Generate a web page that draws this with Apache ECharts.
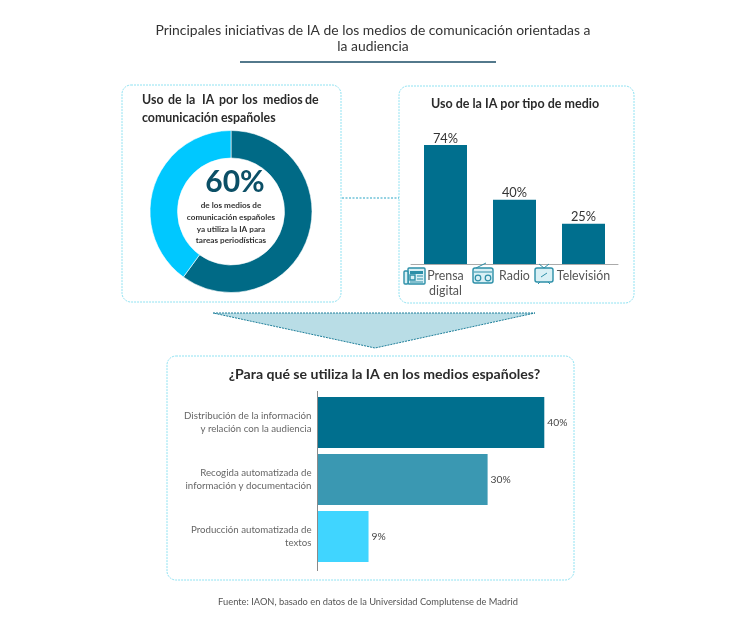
<!DOCTYPE html>
<html><head><meta charset="utf-8">
<style>html,body{margin:0;padding:0;background:#fff}#c{width:736px;height:623px}</style>
<script src="https://cdn.jsdelivr.net/npm/echarts@6/dist/echarts.min.js"></script>
</head><body><div id="c"></div>
<script>
const FONT = 'Lato, sans-serif';
const donutNames = ['Utiliza la IA', 'No utiliza la IA'];
const donutValues = [60, 40];
const mediaCategories = ['Prensa\ndigital', 'Radio', 'Televisión'];
const mediaValues = [74, 40, 25];
const useCategories = ['Distribución de la información\ny relación con la audiencia', 'Recogida automatizada de\ninformación y documentación', 'Producción automatizada de\ntextos'];
const useValues = [40, 30, 9];
const useColors = ['#006f8e', '#3a98b2', '#40d5ff'];

const TEAL = '#2c8fa8';
const panel = (x, y, w, h) => ({type:'rect', z:0, shape:{x, y, width:w, height:h, r:9},
  style:{fill:'#fff', stroke:'#8fe2f2', lineWidth:1, lineDash:[2,1]}});
const text = (x, y, t, size, weight, fill, align) => ({type:'text', z:10, x, y,
  style:{text:t, font:`${weight} ${size}px ${FONT}`, fill, align:align||'center', verticalAlign:'middle'}});
const box = (x, y, w, h, r, fill) => ({type:'rect', z:10, shape:{x, y, width:w, height:h, r:r||0},
  style:{fill:fill||'#d9f0f5', stroke:TEAL, lineWidth:1.4}});
const line = (x1, y1, x2, y2, c, lw, dash) => ({type:'line', z:10, shape:{x1, y1, x2, y2},
  style:{stroke:c||TEAL, lineWidth:lw||1, lineDash:dash}});
const dot = (cx, cy, r) => ({type:'circle', z:10, shape:{cx, cy, r}, style:{fill:'#d9f0f5', stroke:TEAL, lineWidth:1.2}});

const icons = [
  // newspaper
  box(408,268,17,16,1), box(404,271,4,13,1),
  {type:'rect', z:10, shape:{x:410,y:271,width:13,height:3}, style:{fill:TEAL}},
  box(410,275,5,5,0), line(417,276,423,276), line(417,279,423,279), line(410,282,423,282),
  // radio
  box(473,268,20,15,2), line(476,268,486,263), line(474,272,492,272),
  dot(478,278,2.8), dot(488,278,2.8),
  // television
  box(535,268,18,14,2), line(539,264,544,268), line(549,264,544,268),
  line(538,284,540,282), line(550,284,548,282), line(541,277,547,273)
];

// The first heading line is justified in the reference, so each word sits on its own.
const headingWords = ['Uso','de','la','IA','por','los','medios','de'];
const headingX = [142,168,186,202,219,242,263,305];
const headingLine = headingWords.map((w,i)=>text(headingX[i],100,w,12.4,700,'#2b2b2b','left'));

const chart = echarts.init(document.getElementById('c'), null, {renderer:'canvas'});
chart.setOption({
  animation:false,
  backgroundColor:'#fff',
  graphic:{elements:[
    panel(122,85,219,217), panel(399,86,235,217), panel(167,356,407,224),
    line(342,198,399,198,'#2aa5c5',1.2,[2,1.5]),
    {type:'polygon', z:1, shape:{points:[[213,313],[535,313],[375,348]]},
      style:{fill:'#b9dde6', stroke:'#1f7f9a', lineWidth:1, lineDash:[2,1]}},
    text(373,31,'Principales iniciativas de IA de los medios de comunicación orientadas a',13.9,400,'#333'),
    text(373,47,'la audiencia',13.9,400,'#333'),
    line(240,62,496,62,'#1a4d66',1.5),
    ...headingLine,
    text(142,118,'comunicación españoles',12.4,700,'#2b2b2b','left'),
    text(515,104,'Uso de la IA por tipo de medio',12.5,700,'#2b2b2b'),
    text(384.5,374,'¿Para qué se utiliza la IA en los medios españoles?',14.1,700,'#2b2b2b'),
    text(235,182,'60%',30,700,'#0b4f66'),
    text(231,205,'de los medios de',8.2,700,'#333'),
    text(231,217,'comunicación españoles',8.2,700,'#333'),
    text(231,229,'ya utiliza la IA para',8.2,700,'#333'),
    text(231,240,'tareas periodísticas',8.2,700,'#333'),
    line(317.5,391,317.5,571,'#8a8a8a',1),
    text(368,602,'Fuente: IAON, basado en datos de la Universidad Complutense de Madrid',9.3,400,'#555'),
    ...icons
  ]},
  grid:[
    {left:411, width:207, top:264-128.64, height:128.64},
    {left:317.5, width:283.5, top:394, height:171}
  ],
  xAxis:[
    {gridIndex:0, type:'category', data:mediaCategories,
     axisTick:{show:false}, axisLine:{lineStyle:{color:'#aaa'}},
     axisLabel:{color:'#555', fontFamily:FONT, fontSize:12.4, lineHeight:15, margin:4, interval:0}},
    {gridIndex:1, type:'value', min:0, max:50, show:false}
  ],
  yAxis:[
    {gridIndex:0, type:'value', min:0, max:80, show:false},
    {gridIndex:1, type:'category', inverse:true, data:useCategories,
     axisTick:{show:false}, axisLine:{show:false},
     axisLabel:{color:'#666', fontFamily:FONT, fontSize:9.7, lineHeight:13, margin:6, align:'right', interval:0}}
  ],
  series:[
    {type:'pie', center:[231,211.5], radius:[53.5,81], startAngle:90, silent:true,
     label:{show:false}, labelLine:{show:false},
     itemStyle:{borderColor:'#fff', borderWidth:0.6},
     data:donutNames.map((n,i)=>({name:n, value:donutValues[i], itemStyle:{color:['#006a86','#00c8ff'][i]}}))},
    {type:'bar', xAxisIndex:0, yAxisIndex:0, data:mediaValues, barWidth:43,
     itemStyle:{color:'#006f8e'},
     label:{show:true, position:'top', distance:0, formatter:'{c}%', color:'#333', fontFamily:FONT, fontSize:12.8}},
    {type:'bar', xAxisIndex:1, yAxisIndex:1, barWidth:51,
     data:useValues.map((v,i)=>({value:v, itemStyle:{color:useColors[i]}})),
     label:{show:true, position:'right', distance:3, formatter:'{c}%', color:'#444', fontFamily:FONT, fontSize:10.3}}
  ]
});
</script></body></html>
